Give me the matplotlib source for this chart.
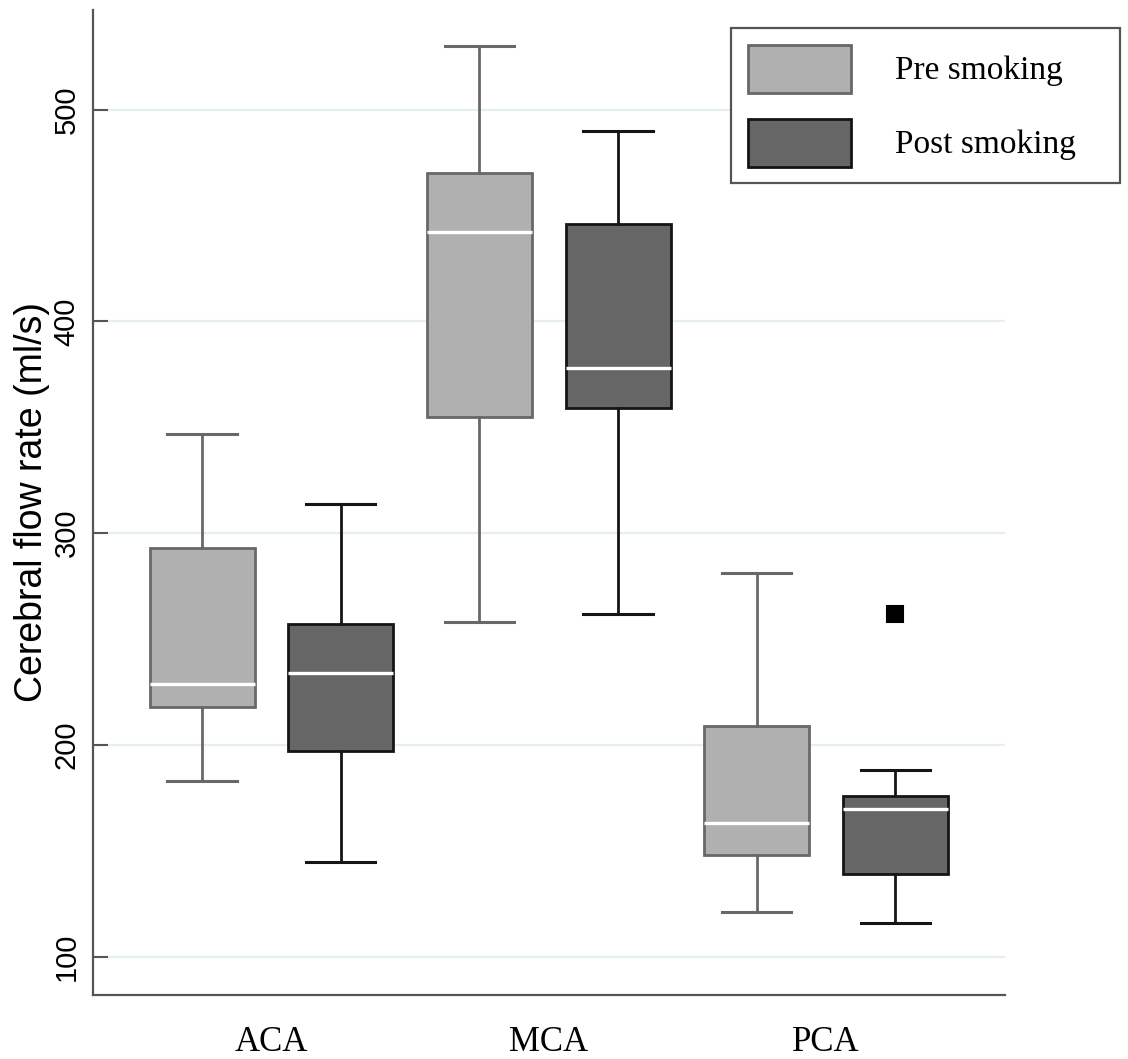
import numpy as np
import matplotlib
matplotlib.use("Agg")
import matplotlib.pyplot as plt
from matplotlib.patches import Patch

# Box statistics (ml/s)
groups = ['ACA', 'MCA', 'PCA']
pre_whislo = [183, 258, 121]
pre_q1 = [218, 355, 148]
pre_med = [229, 442, 163]
pre_q3 = [293, 470, 209]
pre_whishi = [347, 530, 281]
post_whislo = [145, 262, 116]
post_q1 = [197, 359, 139]
post_med = [234, 378, 170]
post_q3 = [257, 446, 176]
post_whishi = [314, 490, 188]
post_fliers = [[], [], [262]]
yticks = [100, 200, 300, 400, 500]

pre_face, pre_edge = '#b0b0b0', '#686868'
post_face, post_edge = '#666666', '#151515'


def make_stats(lo, q1, med, q3, hi, fl):
    return [dict(whislo=a, q1=b, med=c, q3=d, whishi=e, fliers=f)
            for a, b, c, d, e, f in zip(lo, q1, med, q3, hi, fl)]


pre_stats = make_stats(pre_whislo, pre_q1, pre_med, pre_q3, pre_whishi, [[]] * 3)
post_stats = make_stats(post_whislo, post_q1, post_med, post_q3, post_whishi, post_fliers)

fig = plt.figure(figsize=(11.28, 10.59), dpi=100)
ax = fig.add_axes([93 / 1128, 1 - 995 / 1059, 912 / 1128, 985 / 1059])
ax.set_axisbelow(True)

pos_pre = np.arange(len(groups)) * 2 + 1
pos_post = pos_pre + 1
box_w = 0.757
cap_w = 0.5


def draw(stats, pos, face, edge):
    ax.bxp(stats, positions=pos, widths=box_w, capwidths=cap_w, patch_artist=True,
           boxprops=dict(facecolor=face, edgecolor=edge, linewidth=2.0),
           whiskerprops=dict(color=edge, linewidth=2.0),
           capprops=dict(color=edge, linewidth=2.2),
           medianprops=dict(color='white', linewidth=2.4),
           flierprops=dict(marker='s', markersize=12, markerfacecolor='black',
                           markeredgecolor='black', markeredgewidth=1.5))


draw(pre_stats, pos_pre, pre_face, pre_edge)
draw(post_stats, pos_post, post_face, post_edge)

ax.set_xlim(0.213, 6.79)
ax.set_ylim(82, 547)
ax.set_yticks(yticks)
ax.set_yticklabels([str(t) for t in yticks], rotation=90, va='center',
                   fontsize=21, family='Liberation Sans')
ax.set_xticks(pos_pre + 0.5)
ax.set_xticklabels(groups, fontsize=25, family='Liberation Serif')
ax.tick_params(axis='x', length=0, pad=22)
ax.tick_params(axis='y', direction='in', length=11, width=1.5, color='#555555', pad=9)

ax.yaxis.grid(True, color='#e6eff0', linewidth=1.6)
ax.xaxis.grid(False)
for side in ['top', 'right']:
    ax.spines[side].set_visible(False)
for side in ['left', 'bottom']:
    ax.spines[side].set_color('#555555')
    ax.spines[side].set_linewidth(1.6)

ax.set_ylabel('Cerebral flow rate (ml/s)', fontsize=27, family='Liberation Sans')
ax.yaxis.set_label_coords(-0.047, 0.5)

handles = [Patch(facecolor=pre_face, edgecolor=pre_edge, linewidth=2),
           Patch(facecolor=post_face, edgecolor=post_edge, linewidth=2)]
top = 1 - 28 / 1059
leg = fig.legend(handles, ['Pre smoking', 'Post smoking'],
                 loc='upper left', bbox_to_anchor=(731 / 1128, top - 0.1, 389 / 1128, 0.1),
                 mode='expand', borderaxespad=0, fancybox=False,
                 prop=dict(family='Liberation Serif', size=24),
                 handlelength=3.09, handleheight=1.84, handletextpad=1.32,
                 labelspacing=0.78, borderpad=0.5, framealpha=1)
leg.get_frame().set_edgecolor('#555555')
leg.get_frame().set_linewidth(1.6)

fig.savefig('out.png', dpi=100)
